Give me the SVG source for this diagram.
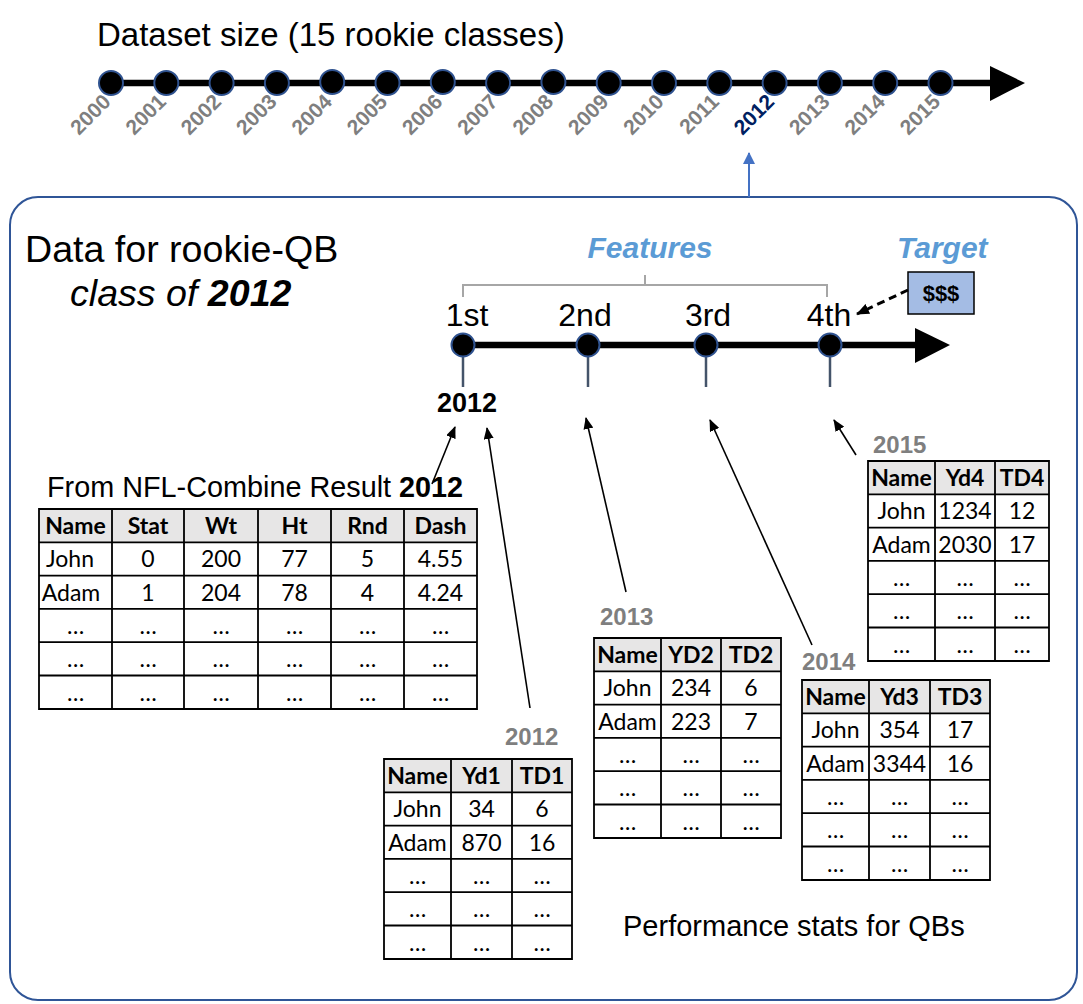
<svg xmlns="http://www.w3.org/2000/svg" width="1083" height="1004" viewBox="0 0 1083 1004">
<style>
.sans{font-family:'Liberation Sans',Arial,sans-serif}
.yr{font-family:'Liberation Sans',Arial,sans-serif;font-weight:bold;font-size:21px;fill:#7F7F7F;text-anchor:end}
.lbl{font-family:'Liberation Sans',Arial,sans-serif;font-weight:bold;font-size:24px;fill:#7F7F7F}
.th{font-family:Lato,'Liberation Sans',sans-serif;font-weight:bold;font-size:23px;text-anchor:middle;fill:#000}
.td{font-family:Lato,'Liberation Sans',sans-serif;font-size:23px;text-anchor:middle;fill:#000}
.hdr{fill:#E7E6E6}
.grid{stroke:#000;stroke-width:1.8;fill:none}
.dot{fill:#000;stroke:#2F528F;stroke-width:2}
.tick{stroke:#44546A;stroke-width:2.5}
.arr{stroke:#000;stroke-width:1.6;fill:none;marker-end:url(#ah)}
</style>
<defs>
<marker id="ah" markerUnits="userSpaceOnUse" markerWidth="12" markerHeight="10" refX="11" refY="5" orient="auto"><path d="M0,0 L12,5 L0,10 Z" fill="#000"/></marker>
<marker id="ahd" markerUnits="userSpaceOnUse" markerWidth="13" markerHeight="11" refX="12" refY="5.5" orient="auto"><path d="M0,0 L13,5.5 L0,11 Z" fill="#000"/></marker>
<marker id="ahb" markerUnits="userSpaceOnUse" markerWidth="12" markerHeight="12" refX="11" refY="6" orient="auto"><path d="M0,0 L12,6 L0,12 Z" fill="#4472C4"/></marker>
</defs>

<g id="title"><text class="sans" x="97" y="46" font-size="33">Dataset size (15 rookie classes)</text></g>

<g id="top-timeline">
<line x1="111" y1="83" x2="993" y2="83" stroke="#000" stroke-width="6.5"/>
<polygon points="990,66 1025,83 990,101" fill="#000"/>
<circle class="dot" cx="111" cy="83" r="12"/>
<circle class="dot" cx="166.3" cy="83" r="12"/>
<circle class="dot" cx="221.6" cy="83" r="12"/>
<circle class="dot" cx="276.9" cy="83" r="12"/>
<circle class="dot" cx="332.2" cy="82" r="12"/>
<circle class="dot" cx="387.5" cy="83" r="12"/>
<circle class="dot" cx="442.8" cy="82" r="12"/>
<circle class="dot" cx="498.1" cy="83" r="12"/>
<circle class="dot" cx="553.4" cy="82" r="12"/>
<circle class="dot" cx="608.7" cy="83" r="12"/>
<circle class="dot" cx="664" cy="83" r="12"/>
<circle class="dot" cx="719.3" cy="83" r="12"/>
<circle class="dot" cx="774.6" cy="83" r="12"/>
<circle class="dot" cx="829.9" cy="83" r="12"/>
<circle class="dot" cx="885.2" cy="83" r="12"/>
<circle class="dot" cx="940.5" cy="83" r="12"/>
<text class="yr" transform="translate(112,103) rotate(-45)">2000</text>
<text class="yr" transform="translate(167.3,103) rotate(-45)">2001</text>
<text class="yr" transform="translate(222.6,103) rotate(-45)">2002</text>
<text class="yr" transform="translate(277.9,103) rotate(-45)">2003</text>
<text class="yr" transform="translate(333.2,103) rotate(-45)">2004</text>
<text class="yr" transform="translate(388.5,103) rotate(-45)">2005</text>
<text class="yr" transform="translate(443.8,103) rotate(-45)">2006</text>
<text class="yr" transform="translate(499.1,103) rotate(-45)">2007</text>
<text class="yr" transform="translate(554.4,103) rotate(-45)">2008</text>
<text class="yr" transform="translate(609.7,103) rotate(-45)">2009</text>
<text class="yr" transform="translate(665,103) rotate(-45)">2010</text>
<text class="yr" transform="translate(720.3,103) rotate(-45)">2011</text>
<text class="yr" transform="translate(775.6,103) rotate(-45)" style="fill:#002060">2012</text>
<text class="yr" transform="translate(830.9,103) rotate(-45)">2013</text>
<text class="yr" transform="translate(886.2,103) rotate(-45)">2014</text>
<text class="yr" transform="translate(941.5,103) rotate(-45)">2015</text>
</g>

<g id="class-box">
<rect x="10" y="197" width="1067" height="803" rx="28" fill="none" stroke="#2F5597" stroke-width="2"/>
<text class="sans" x="25" y="262" font-size="37.6">Data for rookie-QB</text>
<text class="sans" x="70" y="306" font-size="37.6" font-style="italic">class of <tspan font-weight="bold">2012</tspan></text>
</g>

<g id="inner-timeline">
<path d="M463,297 V285 H827 V297 M645,285 V275" fill="none" stroke="#A6A6A6" stroke-width="2"/>
<text x="650" y="258" font-family="'Liberation Sans',Arial,sans-serif" font-size="30" font-weight="bold" font-style="italic" fill="#5B9BD5" text-anchor="middle">Features</text>
<text x="897" y="258" font-family="'Liberation Sans',Arial,sans-serif" font-size="30" font-weight="bold" font-style="italic" fill="#5B9BD5">Target</text>
<line x1="463" y1="345" x2="917" y2="345" stroke="#000" stroke-width="6.5"/>
<polygon points="915,328 950,345 915,363" fill="#000"/>
<line class="tick" x1="463" y1="345" x2="463" y2="387"/>
<line class="tick" x1="588" y1="345" x2="588" y2="387"/>
<line class="tick" x1="706" y1="345" x2="706" y2="387"/>
<line class="tick" x1="830" y1="345" x2="830" y2="387"/>
<circle class="dot" cx="463" cy="345" r="11.5"/>
<circle class="dot" cx="588" cy="345" r="11.5"/>
<circle class="dot" cx="706" cy="345" r="11.5"/>
<circle class="dot" cx="830" cy="345" r="11.5"/>
<text class="sans" x="467" y="326" font-size="32" text-anchor="middle">1st</text>
<text class="sans" x="585" y="326" font-size="32" text-anchor="middle">2nd</text>
<text class="sans" x="708" y="326" font-size="32" text-anchor="middle">3rd</text>
<text class="sans" x="829" y="326" font-size="32" text-anchor="middle">4th</text>
<text class="sans" x="467" y="412" font-size="27" font-weight="bold" text-anchor="middle">2012</text>
</g>

<g id="target-box">
<rect x="908" y="272" width="66" height="42" fill="#A4BCE4" stroke="#000" stroke-width="1.5"/>
<text class="sans" x="941" y="301" font-size="22" font-weight="bold" text-anchor="middle">$$$</text>
</g>

<g id="t-combine">
<text class="sans" x="47" y="497" font-size="28.8">From NFL-Combine Result <tspan font-weight="bold">2012</tspan></text>
<rect class="hdr" x="39" y="509" width="438" height="33.3"/>
<path class="grid" d="M39,509 H477 V709 H39 Z M39,542.3 H477 M39,575.6 H477 M39,608.9 H477 M39,642.2 H477 M39,675.5 H477 M112,509 V709 M184,509 V709 M258,509 V709 M331,509 V709 M404,509 V709"/>
<text class="th" x="75.5" y="534">Name</text><text class="th" x="148" y="534">Stat</text><text class="th" x="221" y="534">Wt</text><text class="th" x="294.5" y="534">Ht</text><text class="th" x="367.5" y="534">Rnd</text><text class="th" x="440.5" y="534">Dash</text>
<text class="td" x="70" y="567.3">John</text><text class="td" x="148" y="567.3">0</text><text class="td" x="221" y="567.3">200</text><text class="td" x="294.5" y="567.3">77</text><text class="td" x="367.5" y="567.3">5</text><text class="td" x="440.5" y="567.3">4.55</text>
<text class="td" x="71" y="600.6">Adam</text><text class="td" x="148" y="600.6">1</text><text class="td" x="221" y="600.6">204</text><text class="td" x="294.5" y="600.6">78</text><text class="td" x="367.5" y="600.6">4</text><text class="td" x="440.5" y="600.6">4.24</text>
<text class="td" x="75.5" y="633.9">…</text><text class="td" x="148" y="633.9">…</text><text class="td" x="221" y="633.9">…</text><text class="td" x="294.5" y="633.9">…</text><text class="td" x="367.5" y="633.9">…</text><text class="td" x="440.5" y="633.9">…</text>
<text class="td" x="75.5" y="667.2">…</text><text class="td" x="148" y="667.2">…</text><text class="td" x="221" y="667.2">…</text><text class="td" x="294.5" y="667.2">…</text><text class="td" x="367.5" y="667.2">…</text><text class="td" x="440.5" y="667.2">…</text>
<text class="td" x="75.5" y="700.5">…</text><text class="td" x="148" y="700.5">…</text><text class="td" x="221" y="700.5">…</text><text class="td" x="294.5" y="700.5">…</text><text class="td" x="367.5" y="700.5">…</text><text class="td" x="440.5" y="700.5">…</text>
</g>

<g id="t-2012">
<text class="lbl" x="505" y="745">2012</text>
<rect class="hdr" x="384" y="759" width="188" height="33.3"/>
<path class="grid" d="M384,759 H572 V959 H384 Z M384,792.3 H572 M384,825.6 H572 M384,858.9 H572 M384,892.2 H572 M384,925.5 H572 M451,759 V959 M512,759 V959"/>
<text class="th" x="417.5" y="784">Name</text><text class="th" x="481.5" y="784">Yd1</text><text class="th" x="542" y="784">TD1</text>
<text class="td" x="417.5" y="817.3">John</text><text class="td" x="481.5" y="817.3">34</text><text class="td" x="542" y="817.3">6</text>
<text class="td" x="417.5" y="850.6">Adam</text><text class="td" x="481.5" y="850.6">870</text><text class="td" x="542" y="850.6">16</text>
<text class="td" x="417.5" y="883.9">…</text><text class="td" x="481.5" y="883.9">…</text><text class="td" x="542" y="883.9">…</text>
<text class="td" x="417.5" y="917.2">…</text><text class="td" x="481.5" y="917.2">…</text><text class="td" x="542" y="917.2">…</text>
<text class="td" x="417.5" y="950.5">…</text><text class="td" x="481.5" y="950.5">…</text><text class="td" x="542" y="950.5">…</text>
</g>

<g id="t-2013">
<text class="lbl" x="600" y="625">2013</text>
<rect class="hdr" x="594" y="638" width="187" height="33.3"/>
<path class="grid" d="M594,638 H781 V838 H594 Z M594,671.3 H781 M594,704.6 H781 M594,737.9 H781 M594,771.2 H781 M594,804.5 H781 M661,638 V838 M721,638 V838"/>
<text class="th" x="627.5" y="663">Name</text><text class="th" x="691" y="663">YD2</text><text class="th" x="751" y="663">TD2</text>
<text class="td" x="627.5" y="696.3">John</text><text class="td" x="691" y="696.3">234</text><text class="td" x="751" y="696.3">6</text>
<text class="td" x="627.5" y="729.6">Adam</text><text class="td" x="691" y="729.6">223</text><text class="td" x="751" y="729.6">7</text>
<text class="td" x="627.5" y="762.9">…</text><text class="td" x="691" y="762.9">…</text><text class="td" x="751" y="762.9">…</text>
<text class="td" x="627.5" y="796.2">…</text><text class="td" x="691" y="796.2">…</text><text class="td" x="751" y="796.2">…</text>
<text class="td" x="627.5" y="829.5">…</text><text class="td" x="691" y="829.5">…</text><text class="td" x="751" y="829.5">…</text>
</g>

<g id="t-2014">
<text class="lbl" x="802" y="670">2014</text>
<rect class="hdr" x="802" y="680" width="188" height="33.3"/>
<path class="grid" d="M802,680 H990 V880 H802 Z M802,713.3 H990 M802,746.6 H990 M802,779.9 H990 M802,813.2 H990 M802,846.5 H990 M869,680 V880 M930,680 V880"/>
<text class="th" x="835.5" y="705">Name</text><text class="th" x="899.5" y="705">Yd3</text><text class="th" x="960" y="705">TD3</text>
<text class="td" x="835.5" y="738.3">John</text><text class="td" x="899.5" y="738.3">354</text><text class="td" x="960" y="738.3">17</text>
<text class="td" x="835.5" y="771.6">Adam</text><text class="td" x="899.5" y="771.6">3344</text><text class="td" x="960" y="771.6">16</text>
<text class="td" x="835.5" y="804.9">…</text><text class="td" x="899.5" y="804.9">…</text><text class="td" x="960" y="804.9">…</text>
<text class="td" x="835.5" y="838.2">…</text><text class="td" x="899.5" y="838.2">…</text><text class="td" x="960" y="838.2">…</text>
<text class="td" x="835.5" y="871.5">…</text><text class="td" x="899.5" y="871.5">…</text><text class="td" x="960" y="871.5">…</text>
</g>

<g id="t-2015">
<text class="lbl" x="873" y="453">2015</text>
<rect class="hdr" x="868" y="461" width="181" height="33.3"/>
<path class="grid" d="M868,461 H1049 V661 H868 Z M868,494.3 H1049 M868,527.6 H1049 M868,560.9 H1049 M868,594.2 H1049 M868,627.5 H1049 M935,461 V661 M995,461 V661"/>
<text class="th" x="901.5" y="486">Name</text><text class="th" x="965" y="486">Yd4</text><text class="th" x="1022" y="486">TD4</text>
<text class="td" x="901.5" y="519.3">John</text><text class="td" x="965" y="519.3">1234</text><text class="td" x="1022" y="519.3">12</text>
<text class="td" x="901.5" y="552.6">Adam</text><text class="td" x="965" y="552.6">2030</text><text class="td" x="1022" y="552.6">17</text>
<text class="td" x="901.5" y="585.9">…</text><text class="td" x="965" y="585.9">…</text><text class="td" x="1022" y="585.9">…</text>
<text class="td" x="901.5" y="619.2">…</text><text class="td" x="965" y="619.2">…</text><text class="td" x="1022" y="619.2">…</text>
<text class="td" x="901.5" y="652.5">…</text><text class="td" x="965" y="652.5">…</text><text class="td" x="1022" y="652.5">…</text>
</g>

<g id="footer"><text class="sans" x="623" y="936" font-size="29">Performance stats for QBs</text></g>

<g id="connectors">
<line x1="749" y1="197" x2="749" y2="153" stroke="#4472C4" stroke-width="2" marker-end="url(#ahb)"/>
<line x1="908" y1="290" x2="857" y2="314" stroke="#000" stroke-width="3" stroke-dasharray="8,5" marker-end="url(#ahd)"/>
<line class="arr" x1="432" y1="484" x2="455" y2="427"/>
<line class="arr" x1="530" y1="708" x2="487" y2="428"/>
<line class="arr" x1="626" y1="592" x2="586" y2="418"/>
<line class="arr" x1="812" y1="645" x2="710" y2="420"/>
<line class="arr" x1="856" y1="455" x2="834" y2="420"/>
</g>
</svg>
